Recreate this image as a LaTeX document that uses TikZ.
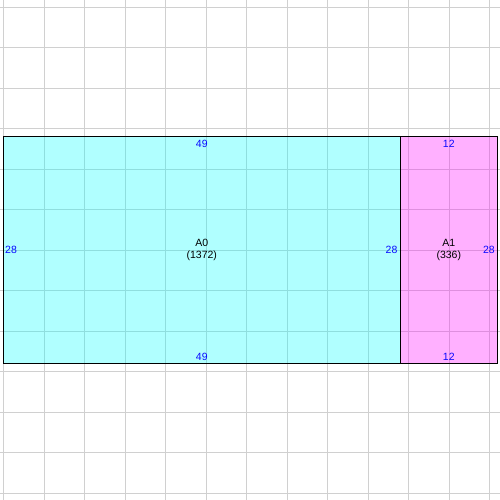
\documentclass[tikz,border=0pt]{standalone}
\usepackage{fontspec}
\setmainfont{Liberation Sans}
\usepackage{tikz}
\definecolor{gridgray}{RGB}{208,208,208}
\definecolor{dimblue}{RGB}{10,10,255}
\definecolor{partcyan}{RGB}{0,255,255}
\definecolor{partpink}{RGB}{255,0,255}

\begin{document}
\begin{tikzpicture}[x=8.1pt,y=8.1pt,
  dimlabel/.style={text=dimblue, font=\fontsize{10.5}{12}\selectfont, inner sep=0pt},
  partlabel/.style={align=center, font=\fontsize{10.5}{12}\selectfont, inner sep=0pt}]
\useasboundingbox (-0.41,-16.88) rectangle (61.32,44.85);
\fill[white] (-0.41,-16.88) rectangle (61.32,44.85);
\draw[gridgray] (0,-16.88) -- (0,44.85);
\draw[gridgray] (5,-16.88) -- (5,44.85);
\draw[gridgray] (10,-16.88) -- (10,44.85);
\draw[gridgray] (15,-16.88) -- (15,44.85);
\draw[gridgray] (20,-16.88) -- (20,44.85);
\draw[gridgray] (25,-16.88) -- (25,44.85);
\draw[gridgray] (30,-16.88) -- (30,44.85);
\draw[gridgray] (35,-16.88) -- (35,44.85);
\draw[gridgray] (40,-16.88) -- (40,44.85);
\draw[gridgray] (45,-16.88) -- (45,44.85);
\draw[gridgray] (50,-16.88) -- (50,44.85);
\draw[gridgray] (55,-16.88) -- (55,44.85);
\draw[gridgray] (60,-16.88) -- (60,44.85);
\draw[gridgray] (-0.41,-16) -- (61.32,-16);
\draw[gridgray] (-0.41,-11) -- (61.32,-11);
\draw[gridgray] (-0.41,-6) -- (61.32,-6);
\draw[gridgray] (-0.41,-1) -- (61.32,-1);
\draw[gridgray] (-0.41,4) -- (61.32,4);
\draw[gridgray] (-0.41,9) -- (61.32,9);
\draw[gridgray] (-0.41,14) -- (61.32,14);
\draw[gridgray] (-0.41,19) -- (61.32,19);
\draw[gridgray] (-0.41,24) -- (61.32,24);
\draw[gridgray] (-0.41,29) -- (61.32,29);
\draw[gridgray] (-0.41,34) -- (61.32,34);
\draw[gridgray] (-0.41,39) -- (61.32,39);
\draw[gridgray] (-0.41,44) -- (61.32,44);
\fill[partcyan, fill opacity=0.31] (0,0) rectangle (49,28);
\fill[partpink, fill opacity=0.31] (49,0) rectangle (61,28);
\draw[black] (0,0) rectangle (49,28);
\draw[black] (49,0) rectangle (61,28);
\node[partlabel] (A0) at (24.5,14) {A0\\(1372)};
\node[partlabel] (A1) at (55,14) {A1\\(336)};
\node[dimlabel] (A0top) at (24.5,27.14) {49};
\node[dimlabel] (A0bottom) at (24.5,0.82) {49};
\node[dimlabel] (A0left) at (0.95,14) {28};
\node[dimlabel] (A0right) at (47.93,14) {28};
\node[dimlabel] (A1top) at (55,27.14) {12};
\node[dimlabel] (A1bottom) at (55,0.82) {12};
\node[dimlabel] (A1right) at (59.96,14) {28};
\end{tikzpicture}
\end{document}
